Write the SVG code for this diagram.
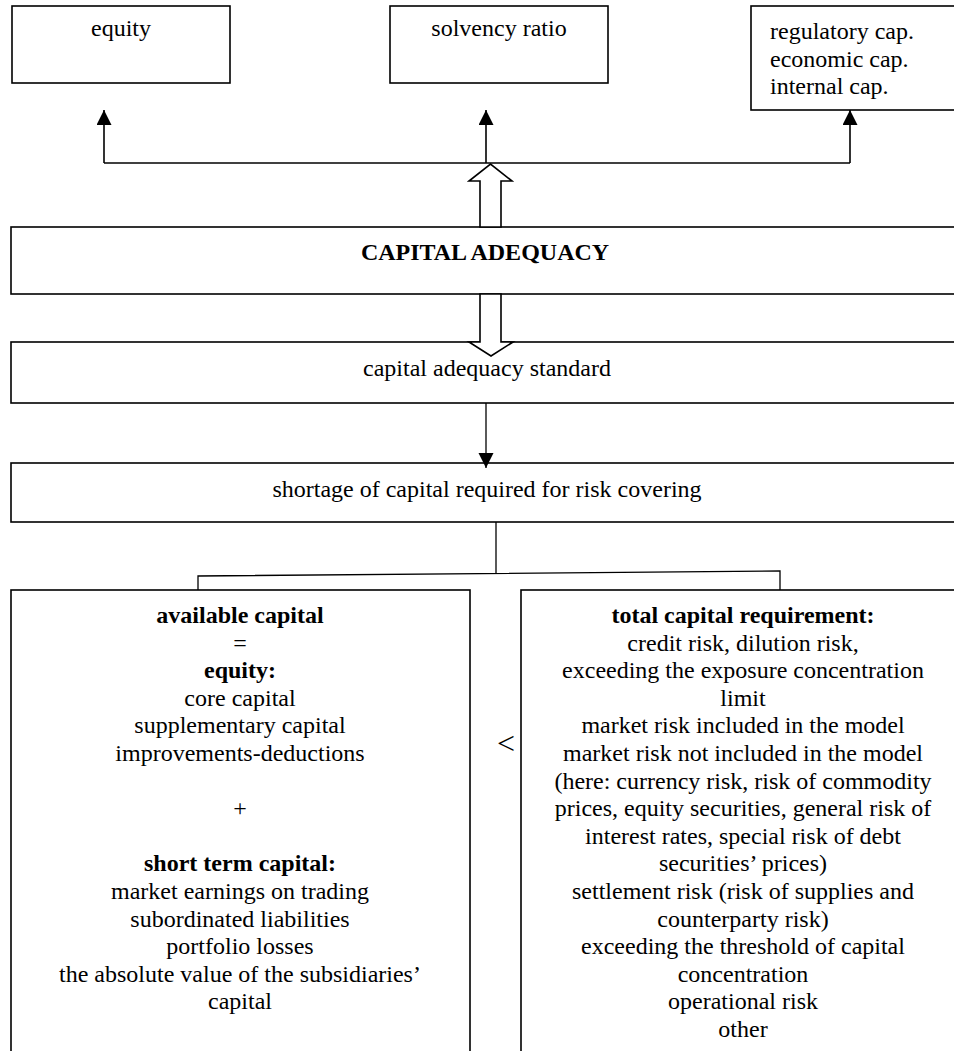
<svg xmlns="http://www.w3.org/2000/svg" width="954" height="1051" viewBox="0 0 954 1051">
<defs>
<marker id="ah" markerWidth="16" markerHeight="16" refX="15" refY="7.5" orient="auto" markerUnits="userSpaceOnUse">
<path d="M0,0 L15,7.5 L0,15 Z" fill="#000"/>
</marker>
<style>
.box{fill:#fff;stroke:#000;stroke-width:1.6}
.t{font-family:"Liberation Serif","Times New Roman",serif;font-size:24px;fill:#000}
.c{text-anchor:middle}
.b{font-weight:bold}
.ln{fill:none;stroke:#000;stroke-width:1.6}
.thin{fill:none;stroke:#000;stroke-width:1.3}
.blk{fill:#fff;stroke:#000;stroke-width:1.6;stroke-linejoin:miter}
</style>
</defs>
<rect width="954" height="1051" fill="#fff"/>

<g id="node-equity">
<rect class="box" x="12" y="6" width="218" height="77"/>
<text class="t c" x="121" y="36">equity</text>
</g>
<g id="node-solvency">
<rect class="box" x="390" y="6" width="218" height="77"/>
<text class="t c" x="499" y="36">solvency ratio</text>
</g>
<g id="node-capitals">
<rect class="box" x="751" y="6" width="210" height="104"/>
<text class="t" x="770" y="39">regulatory cap.</text>
<text class="t" x="770" y="66.5">economic cap.</text>
<text class="t" x="770" y="94">internal cap.</text>
</g>
<g id="node-capital-adequacy">
<rect class="box" x="11" y="227" width="960" height="67"/>
<text class="t c b" x="485" y="260">CAPITAL ADEQUACY</text>
</g>
<g id="node-standard">
<rect class="box" x="11" y="342" width="960" height="61"/>
<text class="t c" x="487" y="376">capital adequacy standard</text>
</g>
<g id="node-shortage">
<rect class="box" x="11" y="463" width="960" height="59"/>
<text class="t c" x="487" y="497">shortage of capital required for risk covering</text>
</g>
<g id="node-available">
<rect class="box" x="11" y="590" width="459" height="480"/>
<text class="t c b" x="240" y="623">available capital</text>
<text class="t c" x="240" y="650.6">=</text>
<text class="t c b" x="240" y="678.2">equity:</text>
<text class="t c" x="240" y="705.8">core capital</text>
<text class="t c" x="240" y="733.4">supplementary capital</text>
<text class="t c" x="240" y="761">improvements-deductions</text>
<text class="t c" x="240" y="816.2">+</text>
<text class="t c b" x="240" y="871.4">short term capital:</text>
<text class="t c" x="240" y="899">market earnings on trading</text>
<text class="t c" x="240" y="926.6">subordinated liabilities</text>
<text class="t c" x="240" y="954.2">portfolio losses</text>
<text class="t c" x="240" y="981.8">the absolute value of the subsidiaries’</text>
<text class="t c" x="240" y="1009.4">capital</text>
</g>
<g id="node-less">
<text class="t c" x="506" y="754" style="font-size:32px">&lt;</text>
</g>
<g id="node-requirement">
<rect class="box" x="521" y="590" width="450" height="480"/>
<text class="t c b" x="743" y="623">total capital requirement:</text>
<text class="t c" x="743" y="650.6">credit risk, dilution risk,</text>
<text class="t c" x="743" y="678.2">exceeding the exposure concentration</text>
<text class="t c" x="743" y="705.8">limit</text>
<text class="t c" x="743" y="733.4">market risk included in the model</text>
<text class="t c" x="743" y="761">market risk not included in the model</text>
<text class="t c" x="743" y="788.6">(here: currency risk, risk of commodity</text>
<text class="t c" x="743" y="816.2">prices, equity securities, general risk of</text>
<text class="t c" x="743" y="843.8">interest rates, special risk of debt</text>
<text class="t c" x="743" y="871.4">securities’ prices)</text>
<text class="t c" x="743" y="899">settlement risk (risk of supplies and</text>
<text class="t c" x="743" y="926.6">counterparty risk)</text>
<text class="t c" x="743" y="954.2">exceeding the threshold of capital</text>
<text class="t c" x="743" y="981.8">concentration</text>
<text class="t c" x="743" y="1009.4">operational risk</text>
<text class="t c" x="743" y="1037">other</text>
</g>

<g id="connectors">
<polyline class="ln" points="104,163 850,163"/>
<line class="ln" x1="104" y1="163" x2="104" y2="110" marker-end="url(#ah)"/>
<line class="ln" x1="486" y1="163" x2="486" y2="110" marker-end="url(#ah)"/>
<line class="ln" x1="850" y1="163" x2="850" y2="110" marker-end="url(#ah)"/>
<polygon class="blk" points="480,227 480,181 469,181 490.5,164 512,181 501,181 501,227"/>
<polygon class="blk" points="480,294 480,342 469,342 491,356 513,342 501,342 501,294"/>
<line class="thin" x1="486" y1="403" x2="486" y2="468" marker-end="url(#ah)"/>
<line class="thin" x1="496" y1="522" x2="496" y2="574"/>
<polyline class="thin" points="198,590 198,576 780,571 780,590"/>
</g>
</svg>
